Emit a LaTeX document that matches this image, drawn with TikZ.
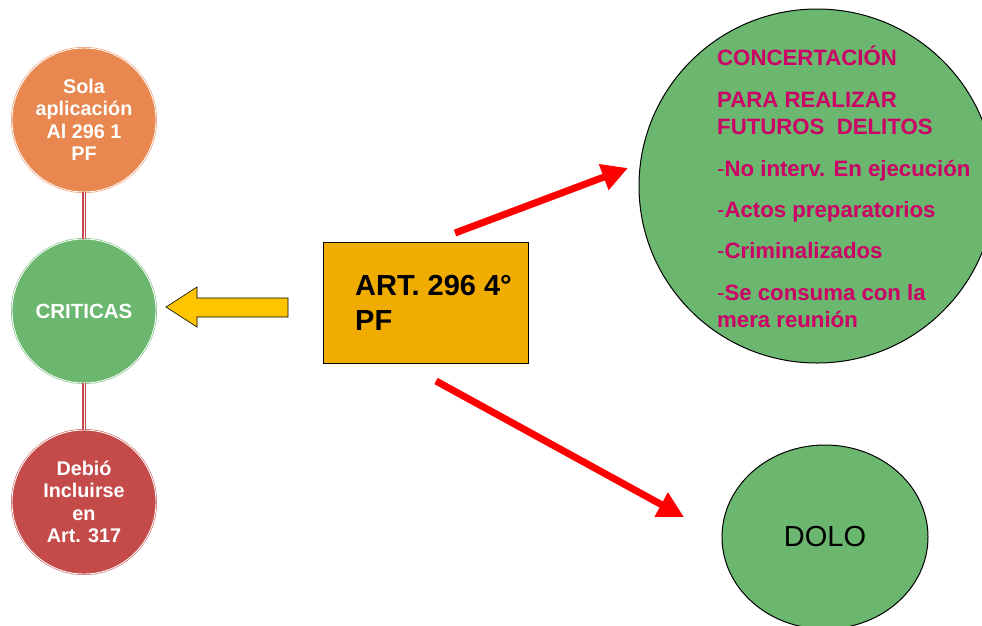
\documentclass[tikz,border=0pt]{standalone}
\usepackage{fontspec}
\setmainfont{Liberation Sans}
\usetikzlibrary{arrows.meta,shapes.geometric}
\definecolor{corange}{HTML}{E88750}
\definecolor{cgreen}{HTML}{6BB76F}
\definecolor{cred}{HTML}{C44B4A}
\definecolor{cbox}{HTML}{F0AC00}
\definecolor{cyellow}{HTML}{FFC600}
\definecolor{cmag}{HTML}{CC0066}
\tikzset{
  bubble/.style={circle, minimum size=144pt, inner sep=0pt, double=white, double distance=0.9pt, line width=0.5pt, text=white, align=center, font=\fontsize{19.8}{22.5}\selectfont\bfseries},
  linkouter/.style={draw=cred, line width=4.5pt},
  linkinner/.style={draw=white, line width=0.8pt},
  bigtxt/.style={anchor=base west, inner sep=0pt, text=cmag, font=\fontsize{22.2}{26}\selectfont\bfseries},
  arttxt/.style={anchor=base west, inner sep=0pt, font=\fontsize{29}{34}\selectfont\bfseries},
  redarrow/.style={draw=red, line width=7pt, -{Triangle[length=26pt,width=26pt]}},
}
\begin{document}
\begin{tikzpicture}[x=1pt,y=-1pt]
\useasboundingbox (0,0) rectangle (982,625);
% left column
\node[bubble, draw=corange, fill=corange] (sola) at (84,120) {Sola\\aplicación\\Al 296 1\\PF};
\node[bubble, draw=cgreen, fill=cgreen, font=\fontsize{20.5}{24}\selectfont\bfseries] (crit) at (84,311) {CRITICAS};
\node[bubble, draw=cred, fill=cred] (debio) at (84,502) {Debió\\Incluirse\\en\\Art. 317};
\draw[linkouter] (sola.south) -- (crit.north);
\draw[linkinner] (sola.south) -- (crit.north);
\draw[linkouter] (crit.south) -- (debio.north);
\draw[linkinner] (crit.south) -- (debio.north);
% central box
\node[draw=black, line width=0.9pt, fill=cbox, minimum width=205pt, minimum height=121pt, inner sep=0pt] (art) at (425.5,302.5) {};
\node[arttxt] (art1) at (355,295) {ART. 296 4°};
\node[arttxt] (art2) at (355,330) {PF};
% yellow block arrow
\draw[fill=cyellow, draw=black, line width=0.6pt, line join=miter]
  (288,298) -- (197,298) -- (197,287) -- (166,307) -- (197,327) -- (197,317) -- (288,317) -- cycle;
% big circle
\node[ellipse, draw=black, line width=1pt, fill=cgreen, minimum width=356pt, minimum height=354pt, inner sep=0pt] (conc) at (817,186) {};
\node[bigtxt] (t1) at (717,65) {CONCERTACIÓN};
\node[bigtxt] (t2) at (717,107) {PARA REALIZAR};
\node[bigtxt] (t3) at (717,134) {FUTUROS\ \ DELITOS};
\node[bigtxt] (t4) at (717,176) {\mdseries-\bfseries No interv. En ejecución};
\node[bigtxt] (t5) at (717,217) {\mdseries-\bfseries Actos preparatorios};
\node[bigtxt] (t6) at (717,258) {\mdseries-\bfseries Criminalizados};
\node[bigtxt] (t7) at (717,300) {\mdseries-\bfseries Se consuma con la};
\node[bigtxt] (t8) at (717,327) {mera reunión};
% DOLO
\node[ellipse, draw=black, line width=1pt, fill=cgreen, minimum width=206pt, minimum height=184pt, inner sep=0pt, font=\fontsize{29}{34}\selectfont] (dolo) at (825,537) {DOLO};
% red arrows
\coordinate (a1s) at (455,233);
\coordinate (a1e) at (628,168);
\coordinate (a2s) at (436,381);
\coordinate (a2e) at (684,517);
\draw[redarrow] (a1s) -- (a1e);
\draw[redarrow] (a2s) -- (a2e);
\end{tikzpicture}
\end{document}
